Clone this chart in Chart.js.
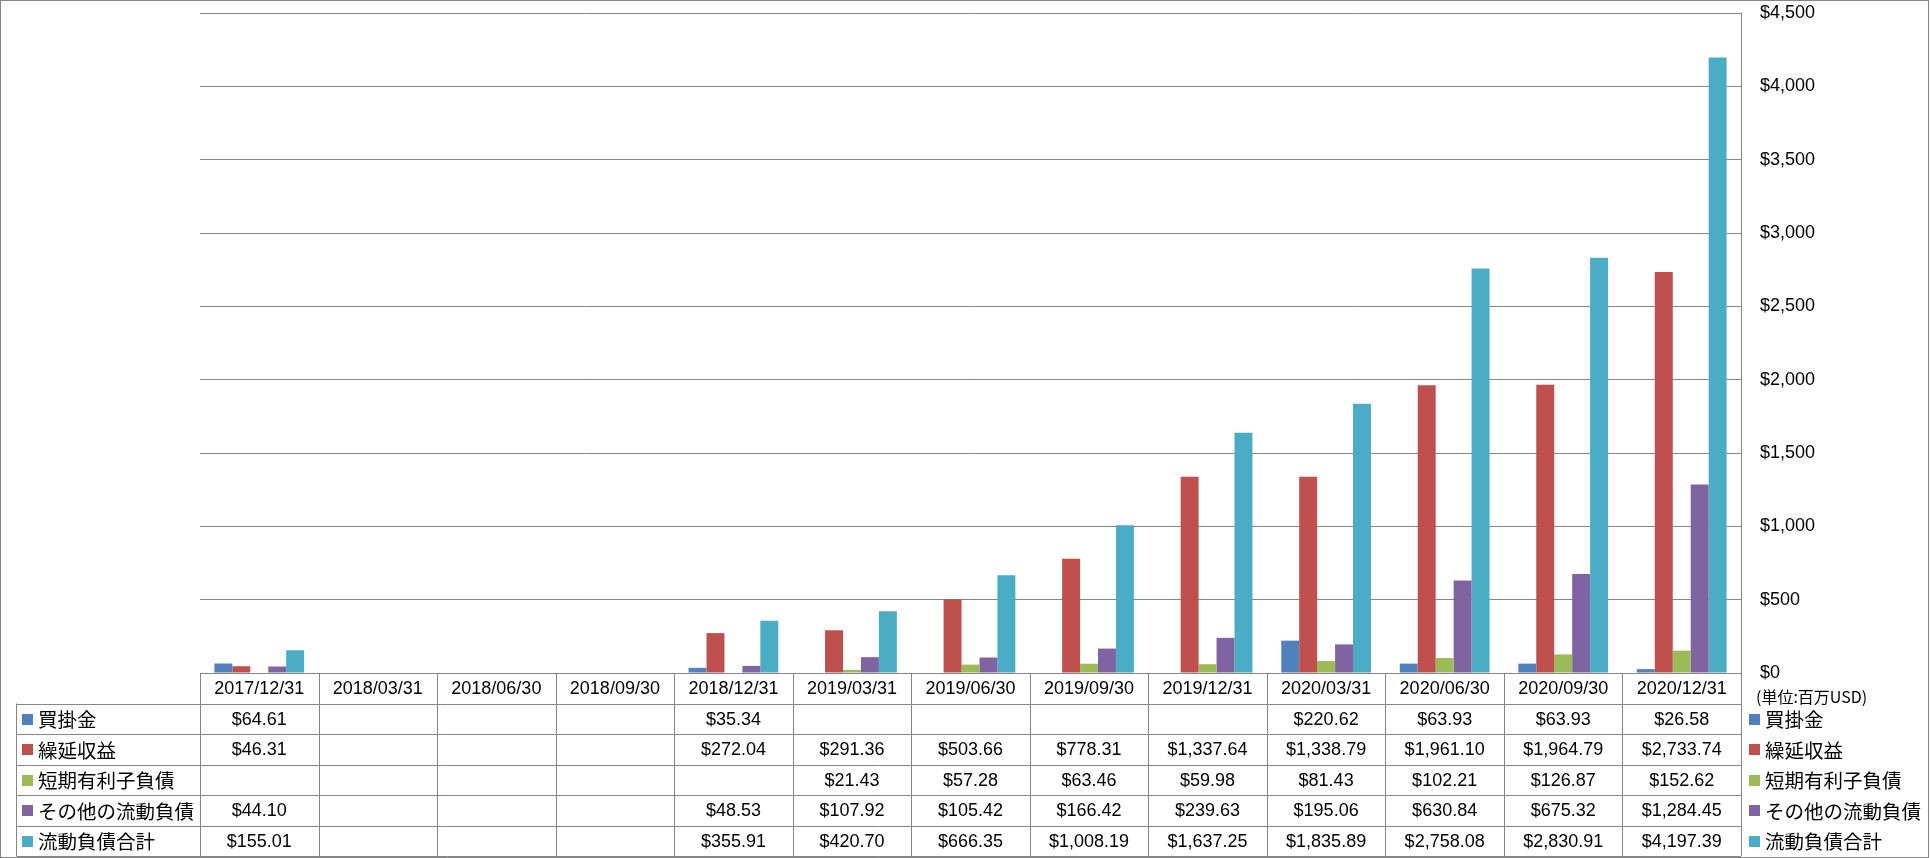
<!DOCTYPE html>
<html>
<head>
<meta charset="utf-8">
<script src="https://cdn.jsdelivr.net/npm/chart.js@4/dist/chart.umd.min.js"></script>
<style>
  body { margin: 0; background: #fff; }
  #container { width: 1930px; height: 858px; position: relative; }
</style>
</head>
<body>
<div id="container">
    <canvas id="barChart"></canvas>
</div>

<script>
    // chart data
    var labels = ['2017/12/31', '2018/03/31', '2018/06/30', '2018/09/30', '2018/12/31', '2019/03/31', '2019/06/30',
                  '2019/09/30', '2019/12/31', '2020/03/31', '2020/06/30', '2020/09/30', '2020/12/31'];
    var seriesNames = ['買掛金', '繰延収益', '短期有利子負債', 'その他の流動負債', '流動負債合計'];
    var payables = [64.61, null, null, null, 35.34, null, null, null, null, 220.62, 63.93, 63.93, 26.58];
    var deferredRevenue = [46.31, null, null, null, 272.04, 291.36, 503.66, 778.31, 1337.64, 1338.79, 1961.10, 1964.79, 2733.74];
    var shortTermDebt = [null, null, null, null, null, 21.43, 57.28, 63.46, 59.98, 81.43, 102.21, 126.87, 152.62];
    var otherCurrent = [44.10, null, null, null, 48.53, 107.92, 105.42, 166.42, 239.63, 195.06, 630.84, 675.32, 1284.45];
    var totalCurrent = [155.01, null, null, null, 355.91, 420.70, 666.35, 1008.19, 1637.25, 1835.89, 2758.08, 2830.91, 4197.39];
    var colors = ['#4F81BD', '#C0504D', '#9BBB59', '#8064A2', '#4BACC6'];
    var unitLabel = '(単位:百万USD)';

    var lineColor = '#868686';
    var numFont = '18px "Liberation Sans", Arial, sans-serif';
    var jpFont = '19.5px "Noto Sans CJK JP", sans-serif';

    function money(v) {
        return '$' + v.toLocaleString('en-US', {minimumFractionDigits: 2, maximumFractionDigits: 2});
    }

    // draws outer border, data table and legend column
    var tablePlugin = {
        id: 'dataTable',
        beforeDraw: function(chart) {
            var ctx = chart.ctx;
            ctx.save();
            ctx.fillStyle = '#fff';
            ctx.fillRect(0, 0, chart.width, chart.height);
            ctx.strokeStyle = lineColor;
            ctx.lineWidth = 1;
            ctx.strokeRect(0.5, 0.5, chart.width - 2, chart.height - 1);
            ctx.restore();
        },
        afterDraw: function(chart) {
            var ctx = chart.ctx;
            var area = chart.chartArea;
            var xs = chart.scales.x;
            var n = labels.length;
            var colW = (area.right - area.left) / n;
            var top = area.bottom;
            var rowH = 30.5;
            var legLeft = 16.5;
            var datasets = chart.data.datasets;
            var bottom = top + rowH * (datasets.length + 1);

            ctx.save();
            ctx.strokeStyle = lineColor;
            ctx.lineWidth = 1;
            ctx.beginPath();
            for (var k = 0; k <= datasets.length + 1; k++) {
                var y = Math.round(top + k * rowH) + 0.5;
                ctx.moveTo(k === 0 ? area.left : legLeft, y);
                ctx.lineTo(area.right, y);
            }
            for (var i = 0; i <= n; i++) {
                var x = Math.round(area.left + i * colW) + 0.5;
                ctx.moveTo(x, top);
                ctx.lineTo(x, bottom);
            }
            ctx.moveTo(legLeft, top + rowH);
            ctx.lineTo(legLeft, bottom);
            ctx.stroke();

            ctx.fillStyle = '#000';
            ctx.textBaseline = 'middle';
            ctx.textAlign = 'center';
            ctx.font = numFont;
            labels.forEach(function(lab, i) {
                ctx.fillText(lab, xs.getPixelForValue(i), top + rowH / 2 + 1);
            });

            datasets.forEach(function(ds, r) {
                var cy = top + rowH * (r + 1.5) + 1;
                ctx.textAlign = 'center';
                ctx.font = numFont;
                ctx.fillStyle = '#000';
                ds.data.forEach(function(v, i) {
                    if (v !== null) ctx.fillText(money(v), xs.getPixelForValue(i), cy);
                });
                // left legend column
                ctx.fillStyle = ds.backgroundColor;
                ctx.fillRect(22, Math.round(cy - 6), 11, 11);
                ctx.fillStyle = '#000';
                ctx.textAlign = 'left';
                ctx.font = jpFont;
                ctx.fillText(ds.label, 38, cy);
                // right legend
                ctx.fillStyle = ds.backgroundColor;
                ctx.fillRect(1749, Math.round(cy - 6), 11, 11);
                ctx.fillStyle = '#000';
                ctx.fillText(ds.label, 1765, cy);
            });

            ctx.font = '16px "Noto Sans CJK JP", sans-serif';
            ctx.textAlign = 'left';
            ctx.fillText(unitLabel, 1756, top + 24);
            ctx.restore();
        }
    };

    var seriesData = [payables, deferredRevenue, shortTermDebt, otherCurrent, totalCurrent];

    var ctxB = document.getElementById('barChart').getContext('2d');
    var myBarChart = new Chart(ctxB, {
        type: 'bar',
        data: {
            labels: labels,
            datasets: seriesNames.map(function(name, i) {
                return {
                    label: name,
                    data: seriesData[i],
                    backgroundColor: colors[i],
                    borderWidth: 0,
                    categoryPercentage: 0.757,
                    barPercentage: 1.0
                };
            })
        },
        options: {
            responsive: true,
            maintainAspectRatio: false,
            animation: false,
            devicePixelRatio: 1,
            layout: {
                padding: {left: 200, right: 0, top: 13, bottom: 185}
            },
            plugins: {
                legend: {display: false},
                tooltip: {enabled: false}
            },
            scales: {
                x: {
                    display: false
                },
                y: {
                    position: 'right',
                    min: 0,
                    max: 4500,
                    afterFit: function(scale) {
                        scale.width = 189;
                        scale.paddingTop = 0;
                        scale.paddingBottom = 0;
                    },
                    ticks: {
                        stepSize: 500,
                        padding: 19,
                        color: '#000',
                        font: {family: '"Liberation Sans", Arial, sans-serif', size: 18},
                        callback: function(v) { return '$' + v.toLocaleString('en-US'); }
                    },
                    grid: {
                        color: lineColor,
                        lineWidth: 1,
                        drawTicks: false
                    },
                    border: {display: true, color: lineColor}
                }
            }
        },
        plugins: [tablePlugin]
    });
</script>
</body>
</html>
